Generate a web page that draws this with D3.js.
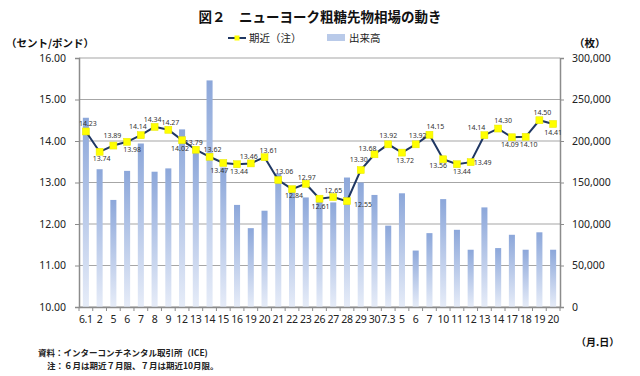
<!DOCTYPE html>
<html><head><meta charset="utf-8">
<script src="https://cdn.jsdelivr.net/npm/d3@7"></script>
<style>body{margin:0;background:#fff}svg{display:block}</style></head>
<body><svg id="c" width="640" height="376"></svg>
<script>
const dates = ["6.1","2","5","6","7","8","9","12","13","14","15","16","19","20","21","22","23","26","27","28","29","30","7.3","5","6","7","10","11","12","13","14","17","18","19","20"];
const price = [14.23,13.74,13.89,13.98,14.14,14.34,14.27,14.02,13.79,13.62,13.47,13.44,13.46,13.61,13.06,12.84,12.97,12.61,12.65,12.55,13.30,13.68,13.92,13.72,13.92,14.15,13.56,13.44,13.49,14.14,14.30,14.09,14.10,14.50,14.41];
const volume = [228000,166000,129000,164000,197000,163000,167000,214000,188000,273000,168000,123000,95000,116000,161000,139000,132000,129000,126000,156000,150000,135000,98000,137000,68000,89000,130000,93000,69000,120000,71000,87000,69000,90000,69000];
const leftTicks = [10,11,12,13,14,15,16];
const rightTicks = [0,50000,100000,150000,200000,250000,300000];
// label offsets (dx, dy) relative to each marker
const labelOffsets = [[2,-8],[2,6.5],[-1,-10],[5,7.5],[-3,-9],[-2,-7.5],[2,-7.5],[-2,8],[-2,-7.5],[3,-7],[-4,8],[2,7.5],[-2,-6.5],[4,-6.5],[6,-9],[2,6.5],[1,-6.5],[1,8],[0,-7],[16,3],[-2,-11],[-7,-5.5],[0,-8.5],[3,7.5],[2,-8.5],[6,-8],[-5,6.5],[5,7.5],[12,0],[-8,-8],[5,-8.5],[-2,7.5],[3,7.5],[3,-7.5],[0,9]];

const svg = d3.select("#c");
const L = 79, R = 560, T = 58, B = 307;
const jp = "'Noto Sans CJK JP', sans-serif";
const num = "'Noto Sans', sans-serif";

const defs = svg.append("defs");
const g1 = defs.append("linearGradient").attr("id","bg").attr("x1",0).attr("y1",0).attr("x2",0).attr("y2",1);
g1.append("stop").attr("offset","0%").attr("stop-color","#8CA7DA");
g1.append("stop").attr("offset","100%").attr("stop-color","#E6ECF8");

const x = d3.scaleBand().domain(d3.range(dates.length)).range([L,R]).padding(0);
const yL = d3.scaleLinear().domain([10,16]).range([B,T]);
const yR = d3.scaleLinear().domain([0,300000]).range([B,T]);

// gridlines
svg.append("g").selectAll("line").data(leftTicks).join("line")
  .attr("x1",L).attr("x2",R).attr("y1",d=>yL(d)).attr("y2",d=>yL(d))
  .attr("stroke","#A6A6A6").attr("stroke-width",1.2);

// bars
const bw = x.bandwidth()*0.44;
svg.append("g").selectAll("rect").data(volume).join("rect")
  .attr("x",(d,i)=>x(i)+x.bandwidth()/2-bw/2).attr("width",bw)
  .attr("y",d=>yR(d)).attr("height",d=>B-yR(d)).attr("fill","url(#bg)");

// axes
const axL = svg.append("g").attr("transform",`translate(${L},0)`)
  .call(d3.axisLeft(yL).tickValues(leftTicks).tickFormat(d3.format(".2f")).tickSizeOuter(0).tickSize(4).tickPadding(9));
const axR = svg.append("g").attr("transform",`translate(${R},0)`)
  .call(d3.axisRight(yR).tickValues(rightTicks).tickFormat(d3.format(",")).tickSizeOuter(0).tickSize(4).tickPadding(8));
const axB = svg.append("g").attr("transform",`translate(0,${B})`)
  .call(d3.axisBottom(x).tickFormat(i=>dates[i]).tickSize(0).tickPadding(9).tickSizeOuter(0));
// tick marks between categories
svg.append("g").selectAll("line").data(d3.range(dates.length+1)).join("line")
  .attr("x1",i=>L+i*x.step()).attr("x2",i=>L+i*x.step()).attr("y1",B).attr("y2",B+4)
  .attr("stroke","#8C8C8C");
[axL,axR,axB].forEach(a=>{
  a.selectAll(".domain").attr("stroke","#8C8C8C").attr("stroke-width",1.5);
  a.selectAll(".tick line").attr("stroke","#8C8C8C");
  a.selectAll("text").attr("font-family",num).attr("font-size",10.5).attr("fill","#222");
});
axB.selectAll("text").attr("font-size",10.5).attr("letter-spacing",-0.3);

// line
const line = d3.line().x((d,i)=>x(i)+x.bandwidth()/2).y(d=>yL(d));
svg.append("path").datum(price).attr("d",line).attr("fill","none").attr("stroke","#1F3763").attr("stroke-width",2);
svg.append("g").selectAll("rect").data(price).join("rect")
  .attr("x",(d,i)=>x(i)+x.bandwidth()/2-3.5).attr("y",d=>yL(d)-3.5)
  .attr("width",7).attr("height",7).attr("fill","#FFFF00").attr("stroke","#E8E800").attr("stroke-width",0.5);
svg.append("g").selectAll("text").data(price).join("text")
  .attr("x",(d,i)=>x(i)+x.bandwidth()/2+labelOffsets[i][0])
  .attr("y",(d,i)=>yL(d)+labelOffsets[i][1])
  .attr("text-anchor","middle").attr("dominant-baseline","central")
  .attr("font-family",num).attr("font-size",7).attr("fill","#333")
  .text(d=>d.toFixed(2));

// title
svg.append("text").attr("x",320).attr("y",22).attr("text-anchor","middle")
  .attr("font-family",jp).attr("font-weight","bold").attr("font-size",13.5).attr("fill","#111")
  .text("図２　ニューヨーク粗糖先物相場の動き");

// legend
svg.append("line").attr("x1",228).attr("x2",246).attr("y1",38).attr("y2",38).attr("stroke","#1F3763").attr("stroke-width",2);
svg.append("rect").attr("x",234.5).attr("y",35.5).attr("width",5).attr("height",5).attr("fill","#FFFF00");
svg.append("text").attr("x",249).attr("y",42).attr("font-family",jp).attr("font-size",10.5).attr("fill","#222").text("期近（注）");
svg.append("rect").attr("x",327).attr("y",34).attr("width",18).attr("height",7).attr("fill","#B9CAE9");
svg.append("text").attr("x",349).attr("y",42).attr("font-family",jp).attr("font-size",10.5).attr("fill","#222").text("出来高");

// axis units
svg.append("text").attr("x",6).attr("y",47).attr("font-family",jp).attr("font-weight","bold").attr("font-size",10.5).attr("fill","#111").text("（セント/ポンド）");
svg.append("text").attr("x",574).attr("y",47).attr("font-family",jp).attr("font-weight","bold").attr("font-size",10.5).attr("fill","#111").text("（枚）");
svg.append("text").attr("x",576).attr("y",346).attr("font-family",jp).attr("font-weight","bold").attr("font-size",10).attr("fill","#111").text("（月.日）");

// footnotes
svg.append("text").attr("x",38).attr("y",356).attr("font-family",jp).attr("font-weight","bold").attr("font-size",8.5).attr("fill","#222").text("資料：インターコンチネンタル取引所（ICE)");
svg.append("text").attr("x",47).attr("y",369).attr("font-family",jp).attr("font-weight","bold").attr("font-size",8.5).attr("fill","#222").text("注：６月は期近７月限、７月は期近10月限。");
</script></body></html>
